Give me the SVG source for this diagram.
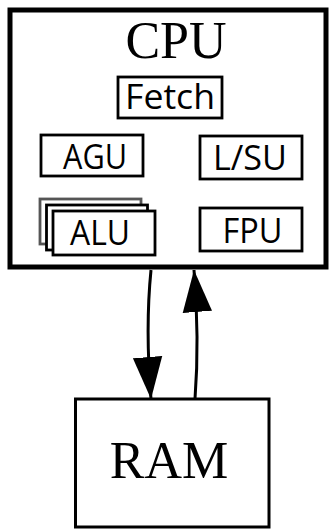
<svg xmlns="http://www.w3.org/2000/svg" width="331" height="529" viewBox="0 0 331 529">
  <style>
    .outer { fill: #fff; stroke: #000; stroke-width: 5; }
    .ram { fill: #fff; stroke: #000; stroke-width: 3; }
    .unit { fill: #fff; stroke: #000; stroke-width: 2.8; }
    .unit-back { fill: #fff; stroke: #555; stroke-width: 2.8; }
    .serif { font-family: "Liberation Serif", "Times New Roman", serif; font-size: 52px; fill: #000; text-anchor: middle; }
    .label { font-family: "Open Sans", "Noto Sans", sans-serif; font-size: 34px; fill: #000; text-anchor: middle; }
    .link { fill: none; stroke: #000; stroke-width: 3; }
  </style>
  <defs>
    <marker id="head" markerUnits="userSpaceOnUse" markerWidth="42" markerHeight="30" viewBox="0 0 40 28" refX="40" refY="14" orient="auto">
      <polygon points="0,0 40,14 0,28" fill="#000"/>
    </marker>
  </defs>
  <rect width="331" height="529" fill="#fff"/>

  <!-- processor block -->
  <g id="cpu">
    <rect class="outer" x="10" y="10" width="316" height="257"/>
    <text class="serif" x="176" y="58">CPU</text>
  </g>

  <g id="fetch">
    <rect class="unit" x="118" y="77" width="104" height="41"/>
    <text class="label" x="170" y="109" textLength="90" lengthAdjust="spacingAndGlyphs">Fetch</text>
  </g>

  <g id="agu">
    <rect class="unit" x="41" y="135" width="102" height="41"/>
    <text class="label" x="95" y="169" textLength="64" lengthAdjust="spacingAndGlyphs">AGU</text>
  </g>

  <g id="lsu">
    <rect class="unit" x="200" y="136" width="102" height="43"/>
    <text class="label" x="250" y="170" textLength="74" lengthAdjust="spacingAndGlyphs">L/SU</text>
  </g>

  <!-- several ALUs stacked -->
  <g id="alu">
    <rect class="unit-back" x="40" y="199" width="101" height="45"/>
    <rect class="unit" x="46.5" y="205" width="101" height="45"/>
    <rect class="unit" x="53" y="211" width="102" height="44"/>
    <text class="label" x="100" y="245" textLength="60" lengthAdjust="spacingAndGlyphs">ALU</text>
  </g>

  <g id="fpu">
    <rect class="unit" x="200" y="208" width="102" height="43"/>
    <text class="label" x="252.5" y="243" textLength="60" lengthAdjust="spacingAndGlyphs">FPU</text>
  </g>

  <!-- memory -->
  <g id="ram">
    <rect class="ram" x="75.5" y="399" width="193.5" height="128"/>
    <text class="serif" x="169" y="478">RAM</text>
  </g>

  <!-- load and store paths -->
  <g id="connectors">
    <path class="link" d="M151,270 C147,310 147,350 151,399" marker-end="url(#head)"/>
    <path class="link" d="M195,399 C198,360 198,320 194,270" marker-end="url(#head)"/>
  </g>
</svg>
